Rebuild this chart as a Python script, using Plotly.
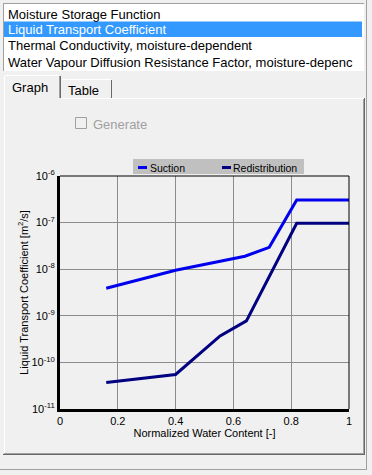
import plotly.graph_objects as go

W, H = 372, 475

# ---- data ----
list_items = ["Moisture Storage Function",
              "Liquid Transport Coefficient",
              "Thermal Conductivity, moisture-dependent",
              "Water Vapour Diffusion Resistance Factor, moisture-depenc"]
tab_labels = ["Graph", "Table"]

suction_x = [0.16, 0.40, 0.64, 0.724, 0.819, 1.0]
suction_y = [3.9e-9, 9.5e-9, 1.9e-8, 2.95e-8, 3.05e-7, 3.05e-7]

redistribution_x = [0.16, 0.40, 0.554, 0.645, 0.819, 1.0]
redistribution_y = [3.7e-11, 5.5e-11, 3.7e-10, 7.8e-10, 9.7e-8, 9.7e-8]

x_ticks = [0, 0.2, 0.4, 0.6, 0.8, 1.0]
x_ticktext = ["0", "0.2", "0.4", "0.6", "0.8", "1"]
y_ticks = [1e-11, 1e-10, 1e-9, 1e-8, 1e-7, 1e-6]
y_ticktext = ["10<sup>-11</sup>", "10<sup>-10</sup>", "10<sup>-9</sup>",
              "10<sup>-8</sup>", "10<sup>-7</sup>", "10<sup>-6</sup>"]

SUCTION_C = "#0000EE"
REDIS_C = "#000080"
FONT = "Liberation Sans"


def X(p):
    return p / W


def Y(p):
    return 1 - p / H


shapes = []
annotations = []


def hline(x0, x1, y, color, w=1, layer="below"):
    shapes.append(dict(type="line", xref="paper", yref="paper", x0=X(x0), x1=X(x1),
                       y0=Y(y), y1=Y(y), line=dict(color=color, width=w), layer=layer))


def vline(x, y0, y1, color, w=1, layer="below"):
    shapes.append(dict(type="line", xref="paper", yref="paper", x0=X(x), x1=X(x),
                       y0=Y(y0), y1=Y(y1), line=dict(color=color, width=w), layer=layer))


def rect(x0, y0, x1, y1, fill, line=None, lw=0, layer="below"):
    shapes.append(dict(type="rect", xref="paper", yref="paper", x0=X(x0), x1=X(x1),
                       y0=Y(y1), y1=Y(y0), fillcolor=fill,
                       line=dict(color=line or fill, width=lw), layer=layer))


def text(t, x, y, size=13, color="black", xanchor="left"):
    annotations.append(dict(text=t, xref="paper", yref="paper", x=X(x), y=Y(y),
                            xanchor=xanchor, yanchor="middle", showarrow=False,
                            borderpad=0, borderwidth=0,
                            font=dict(family=FONT, size=size, color=color)))


# ---- list box ----
rect(3, 3, 364, 71, "white")
hline(3, 364, 3.5, "#A0A0A0")
vline(3.5, 3, 71, "#A0A0A0")
rect(4, 21.5, 362, 37, "#3399FF")
row_centers = [14, 30, 46, 62]
for i, (item, yc) in enumerate(zip(list_items, row_centers)):
    text(item, 7.5, yc, size=13, color="white" if i == 1 else "black")

# outer right/bottom border
vline(366.5, 0, 470, "#A0A0A0")
hline(0, 367, 469.5, "#A0A0A0")

# ---- tabs ----
hline(5, 59, 75.5, "white")
vline(4.5, 76, 98, "white")
vline(59.5, 76, 98, "#A0A0A0")
vline(60.5, 76, 98, "#696969")
hline(62, 111, 79.5, "white")
vline(111.5, 80, 98, "#696969")
text(tab_labels[0], 29.5, 88, size=13, xanchor="center")
text(tab_labels[1], 83, 90, size=13, xanchor="center")

# tab page border
hline(61, 364, 98.5, "white")
vline(4.5, 98, 454, "white")
vline(363.5, 99, 454, "#A0A0A0")
hline(4, 364, 453.5, "#A0A0A0")
hline(3, 365, 454.5, "#696969")
vline(364.5, 98, 455, "#696969")

# ---- disabled checkbox ----
rect(75.5, 117.5, 86.5, 128.5, "#F0F0F0", line="#A0A0A0", lw=1)
text("Generate", 92.5, 124, size=13, color="#A0A0A0")

# ---- legend (box above the plot) ----
rect(133, 159, 304, 174, "#C0C0C0")
hline(138, 147, 167.5, SUCTION_C, w=3)
hline(222, 231, 167.5, REDIS_C, w=3)
text("Suction", 150, 167.5, size=10.5)
text("Redistribution", 233, 167.5, size=10.5)

# ---- plot frame: thin top/right ----
shapes.append(dict(type="line", xref="x domain", yref="y domain", x0=0, x1=1, y0=1, y1=1,
                   line=dict(color="black", width=1), layer="above"))
shapes.append(dict(type="line", xref="x domain", yref="y domain", x0=1, x1=1, y0=0, y1=1,
                   line=dict(color="black", width=1), layer="above"))

fig = go.Figure()
fig.add_trace(go.Scatter(x=suction_x, y=suction_y, mode="lines", name="Suction",
                         line=dict(color=SUCTION_C, width=3), showlegend=False))
fig.add_trace(go.Scatter(x=redistribution_x, y=redistribution_y, mode="lines",
                         name="Redistribution",
                         line=dict(color=REDIS_C, width=3), showlegend=False))

axis_font = dict(family=FONT, size=11, color="black")
fig.update_layout(
    width=W, height=H, autosize=False,
    margin=dict(l=0, r=0, t=0, b=0, pad=0, autoexpand=False),
    paper_bgcolor="#F0F0F0", plot_bgcolor="#F0F0F0",
    showlegend=False,
    font=dict(family=FONT, size=11, color="black"),
    xaxis=dict(domain=[60 / W, 349 / W], range=[0, 1], tickvals=x_ticks, ticktext=x_ticktext,
               showgrid=True, gridcolor="#8C8C8C", gridwidth=1, zeroline=False,
               showline=True, linecolor="black", linewidth=3, ticks="",
               tickfont=axis_font, fixedrange=True, automargin=False,
               title=dict(text="Normalized Water Content [-]", font=axis_font, standoff=4)),
    yaxis=dict(domain=[1 - 409 / H, 1 - 176 / H], type="log", range=[-11, -6],
               tickvals=y_ticks, ticktext=y_ticktext,
               showgrid=True, gridcolor="#8C8C8C", gridwidth=1, zeroline=False,
               showline=True, linecolor="black", linewidth=3, ticks="",
               tickfont=axis_font, fixedrange=True, automargin=False,
               title=dict(text="Liquid Transport Coefficient [m<sup>2</sup>/s]",
                          font=axis_font, standoff=1)),
    shapes=shapes,
    annotations=annotations,
)

fig.write_html("out.html",
               config={"displayModeBar": False, "responsive": False, "staticPlot": True},
               post_script="document.body.style.margin='0';"
                           "document.body.style.overflow='hidden';"
                           "document.body.style.background='#F0F0F0';")
